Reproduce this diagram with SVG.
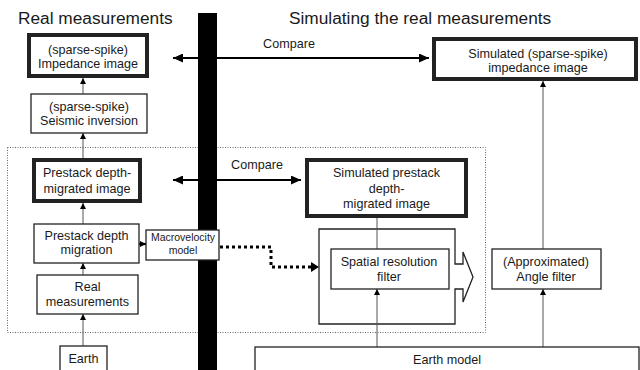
<svg xmlns="http://www.w3.org/2000/svg" width="640" height="370" viewBox="0 0 640 370">
<defs>
<style>
text{font-family:"Liberation Sans",Arial,Helvetica,sans-serif;fill:#1a1a1a;text-anchor:middle}
.t{font-size:12.6px}
.s{font-size:10.5px}
.h{font-size:17.3px;text-anchor:start}
.box{fill:#fff;stroke:#222;stroke-width:1.3}
.thick{fill:#fff;stroke:#222;stroke-width:4}
.ln{stroke:#555;stroke-width:1;fill:none}
.bold{stroke:#000;stroke-width:2.2;fill:none}
.dot{stroke:#000;stroke-width:3;fill:none;stroke-dasharray:3 3}
</style>
<marker id="a" viewBox="0 0 6 6" refX="6" refY="3" markerWidth="6" markerHeight="6" markerUnits="userSpaceOnUse" orient="auto"><path d="M0,0L6,3L0,6z" fill="#000"/></marker>
<marker id="b" viewBox="0 0 10 9" refX="10" refY="4.5" markerWidth="10" markerHeight="9" markerUnits="userSpaceOnUse" orient="auto-start-reverse"><path d="M0,0L10,4.5L0,9z" fill="#000"/></marker>
</defs>
<rect width="640" height="370" fill="#fff"/>
<text class="h" x="18" y="24">Real measurements</text>
<text class="h" x="289" y="24">Simulating the real measurements</text>
<rect x="7.5" y="147.5" width="478" height="185" fill="none" stroke="#666" stroke-width="1" stroke-dasharray="1 1.5"/>
<rect id="divider" x="198" y="13" width="19" height="360" fill="#000"/>
<g id="filter-arrow">
<path class="box" d="M319,229H455V264H463V252L473,277L463,302V289H455V324H319Z"/>
</g>
<g id="connectors">
<line class="ln" x1="83" y1="94" x2="83" y2="78" marker-end="url(#a)"/>
<line class="ln" x1="83" y1="158" x2="83" y2="133" marker-end="url(#a)"/>
<line class="ln" x1="83" y1="224" x2="83" y2="203" marker-end="url(#a)"/>
<line class="ln" x1="83" y1="275" x2="83" y2="263" marker-end="url(#a)"/>
<line class="ln" x1="83" y1="346" x2="83" y2="314" marker-end="url(#a)"/>
<line class="bold" x1="139" y1="244" x2="146" y2="244" marker-end="url(#a)"/>
<line class="bold" x1="173" y1="58" x2="429" y2="58" marker-start="url(#b)" marker-end="url(#b)"/>
<text class="t" x="289" y="48">Compare</text>
<line class="bold" x1="173" y1="180" x2="301" y2="180" marker-start="url(#b)" marker-end="url(#b)"/>
<text class="t" x="257" y="169">Compare</text>
<polyline class="dot" points="220,247 271,247 271,267 312,267"/>
<path d="M311,262L319,267L311,272z" fill="#000"/>
<line class="ln" x1="377" y1="218" x2="377" y2="249"/>
<line class="ln" x1="377" y1="347" x2="377" y2="289" marker-end="url(#a)"/>
<line class="ln" x1="543" y1="249" x2="543" y2="81" marker-end="url(#a)"/>
<line class="ln" x1="543" y1="347" x2="543" y2="289" marker-end="url(#a)"/>
</g>
<g id="impedance-image">
<rect class="thick" x="29" y="35" width="118" height="41"/>
<text class="t" x="88" y="54">(sparse-spike)</text>
<text class="t" x="88" y="68">Impedance image</text>
</g>
<g id="seismic-inversion">
<rect class="box" x="31" y="94" width="116" height="39"/>
<text class="t" x="89" y="111">(sparse-spike)</text>
<text class="t" x="89" y="125">Seismic inversion</text>
</g>
<g id="prestack-image">
<rect class="thick" x="34" y="160" width="106" height="41"/>
<text class="t" x="87" y="177">Prestack depth-</text>
<text class="t" x="87" y="193">migrated image</text>
</g>
<g id="prestack-migration">
<rect class="box" x="34" y="224" width="105" height="39"/>
<text class="t" x="86.5" y="240">Prestack depth</text>
<text class="t" x="86.5" y="254">migration</text>
</g>
<g id="macrovelocity">
<rect class="box" x="146" y="230" width="73" height="30"/>
<text class="s" x="183" y="241">Macrovelocity</text>
<text class="s" x="183" y="254">model</text>
</g>
<g id="real-measurements">
<rect class="box" x="37" y="275" width="101" height="39"/>
<text class="t" x="87.5" y="291">Real</text>
<text class="t" x="87.5" y="306">measurements</text>
</g>
<g id="earth">
<rect class="box" x="60" y="346" width="47" height="30"/>
<text class="t" x="83.5" y="363">Earth</text>
</g>
<g id="sim-impedance">
<rect class="thick" x="434" y="39" width="202" height="40"/>
<text class="t" x="538" y="58">Simulated (sparse-spike)</text>
<text class="t" x="538" y="72">impedance image</text>
</g>
<g id="sim-prestack">
<rect class="thick" x="307" y="160" width="159" height="56"/>
<text class="t" x="386.5" y="177">Simulated prestack</text>
<text class="t" x="386.5" y="193">depth-</text>
<text class="t" x="386.5" y="208">migrated image</text>
</g>
<g id="spatial-filter">
<rect class="box" x="331" y="249" width="118" height="40"/>
<text class="t" x="389" y="266">Spatial resolution</text>
<text class="t" x="389" y="281">filter</text>
</g>
<g id="angle-filter">
<rect class="box" x="492" y="249" width="109" height="40"/>
<text class="t" x="546" y="266">(Approximated)</text>
<text class="t" x="546" y="281">Angle filter</text>
</g>
<g id="earth-model">
<rect class="box" x="255" y="347" width="384" height="30"/>
<text class="t" x="447" y="364">Earth model</text>
</g>
</svg>
